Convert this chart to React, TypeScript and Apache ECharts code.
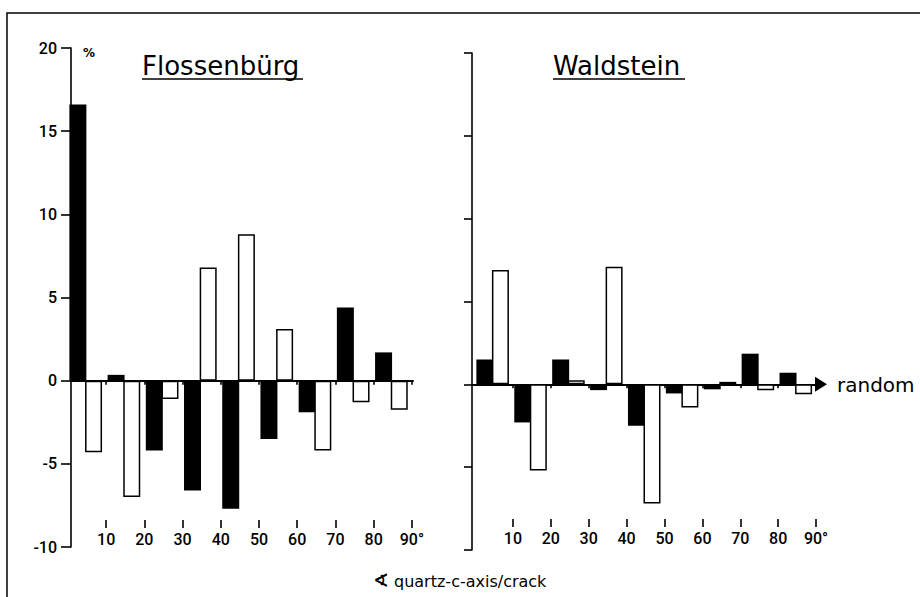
import React, { useEffect, useRef } from "react";
import * as echarts from "echarts";

// angle bins (degrees, quartz-c-axis / crack), each bin holds a black and a white bar
const angleBins = [0, 10, 20, 30, 40, 50, 60, 70, 80];
const flossenburgBlack = [16.6, 0.35, -4.2, -6.6, -7.7, -3.5, -1.9, 4.4, 1.7];
const flossenburgWhite = [-4.3, -7.0, -1.1, 6.8, 8.8, 3.1, -4.2, -1.3, -1.75];
const waldsteinBlack = [1.5, -2.3, 1.5, -0.35, -2.5, -0.55, -0.3, 1.85, 0.7];
const waldsteinWhite = [6.9, -5.2, 0.25, 7.1, -7.2, -1.4, 0.15, -0.35, -0.6];
const xTickValues = [10, 20, 30, 40, 50, 60, 70, 80, 90];
const titles = ["Flossenbürg", "Waldstein"];
const angleSymbol = "∢";
const axisNote = "quartz-c-axis/crack";
const randomLabel = "random";

const FONT = "DejaVu Sans";
const TICKFONT = "Roboto";

function barData(black: number[], white: number[]) {
  const out: any[] = [];
  angleBins.forEach((b, i) => {
    out.push({ value: [b + 2.6, black[i]], itemStyle: { color: "#000" } });
  });
  angleBins.forEach((b, i) => {
    out.push({
      value: [b + 6.7, white[i]],
      itemStyle: { color: "#fff", borderColor: "#000", borderWidth: 1.5 },
    });
  });
  return out;
}

export default function App() {
  const ref = useRef<HTMLDivElement>(null);
  useEffect(() => {
    document.body.style.margin = "0";
    const chart = echarts.init(ref.current!, null, { renderer: "svg" });
    const lineStyle = { color: "#000", width: 1.6 };
    const zeroAxis = (grid: number, min: number, max: number, arrow: boolean) => ({
      gridIndex: grid,
      type: "value",
      min,
      max,
      position: "bottom",
      axisLine: {
        onZero: true,
        lineStyle: { color: "#000", width: 2 },
        symbol: arrow ? ["none", "triangle"] : ["none", "none"],
        symbolSize: [15, 12],
      },
      axisTick: { show: true, customValues: xTickValues, length: 4, lineStyle },
      axisLabel: { show: false },
      splitLine: { show: false },
    });
    const labelAxis = (grid: number, min: number, max: number, offset: number) => ({
      gridIndex: grid,
      type: "value",
      min,
      max,
      position: "bottom",
      offset,
      axisLine: { show: false, onZero: false },
      axisTick: { show: true, customValues: xTickValues, length: 8, lineStyle },
      axisLabel: {
        customValues: xTickValues,
        margin: 11,
        fontFamily: TICKFONT,
        fontSize: 16,
        fontWeight: 500,
        color: "#000",
        formatter: (v: number) => (v === 90 ? "90°" : String(v)),
      },
      splitLine: { show: false },
    });
    const yAxis = (grid: number, labels: boolean) => ({
      gridIndex: grid,
      type: "value",
      min: -10,
      max: 20,
      interval: 5,
      axisLine: { show: true, onZero: false, lineStyle },
      axisTick: { show: true, length: labels ? 10 : 8, lineStyle },
      axisLabel: {
        show: labels,
        margin: 14,
        fontFamily: TICKFONT,
        fontSize: 16,
        fontWeight: 500,
        color: "#000",
      },
      splitLine: { show: false },
    });

    chart.setOption({
      animation: false,
      backgroundColor: "#fff",
      grid: [
        { left: 71, top: 48, width: 342, height: 499 },
        { left: 472, top: 53, width: 349, height: 497 },
      ],
      xAxis: [
        zeroAxis(0, 0.8, 90.3, false),
        labelAxis(0, 0.8, 90.3, -27),
        zeroAxis(1, -0.8, 91.3, true),
        labelAxis(1, -0.8, 91.3, -31),
      ],
      yAxis: [yAxis(0, true), yAxis(1, false)],
      series: [
        {
          type: "bar",
          xAxisIndex: 0,
          yAxisIndex: 0,
          barWidth: 17,
          data: barData(flossenburgBlack, flossenburgWhite),
        },
        {
          type: "bar",
          xAxisIndex: 2,
          yAxisIndex: 1,
          barWidth: 17,
          data: barData(waldsteinBlack, waldsteinWhite),
        },
      ],
      graphic: [
        {
          type: "rect",
          shape: { x: 7, y: 13, width: 930, height: 620 },
          style: { fill: "none", stroke: "#000", lineWidth: 1.5 },
          silent: true,
        },
        {
          type: "text",
          x: 142,
          y: 66,
          style: { text: titles[0], font: `26px "${FONT}"`, fill: "#000", verticalAlign: "middle" },
        },
        {
          type: "line",
          shape: { x1: 142, y1: 79, x2: 303, y2: 79 },
          style: { stroke: "#000", lineWidth: 1.5 },
        },
        {
          type: "text",
          x: 553,
          y: 66,
          style: { text: titles[1], font: `26px "${FONT}"`, fill: "#000", verticalAlign: "middle" },
        },
        {
          type: "line",
          shape: { x1: 553, y1: 79, x2: 685, y2: 79 },
          style: { stroke: "#000", lineWidth: 1.5 },
        },
        {
          type: "text",
          x: 83,
          y: 53,
          style: { text: "%", font: `bold 12px "${FONT}"`, fill: "#000", verticalAlign: "middle" },
        },
        {
          type: "text",
          x: 837,
          y: 385,
          style: { text: randomLabel, font: `20px "${FONT}"`, fill: "#000", verticalAlign: "middle" },
        },
        {
          type: "text",
          x: 373,
          y: 580,
          style: { text: angleSymbol, font: `bold 19px "${FONT}"`, fill: "#000", verticalAlign: "middle" },
        },
        {
          type: "text",
          x: 394,
          y: 581,
          style: { text: axisNote, font: `16px "${FONT}"`, fill: "#000", verticalAlign: "middle" },
        },
      ],
    });
    return () => chart.dispose();
  }, []);
  return (
    <div
      ref={ref}
      style={{ position: "fixed", left: 0, top: 0, width: 920, height: 597 }}
    />
  );
}
